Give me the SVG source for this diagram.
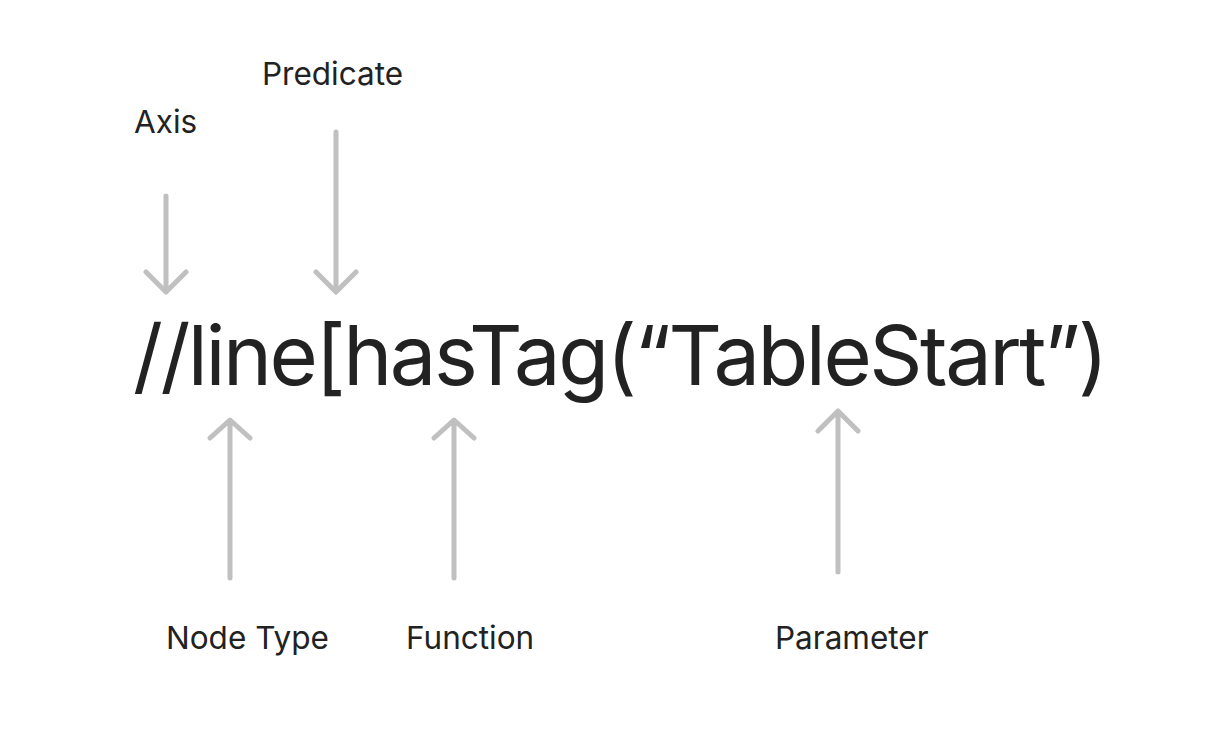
<svg xmlns="http://www.w3.org/2000/svg" width="1226" height="730" viewBox="0 0 1226 730">
<style>
.lbl{font-family:Inter,"Liberation Sans",sans-serif;font-size:31.5px;fill:#222222}
.main{font-family:Inter,"Liberation Sans",sans-serif;font-size:83px;fill:#222222;letter-spacing:-2.5px}
.arr{stroke:#c0c0c0;stroke-width:5;fill:none;stroke-linecap:round;stroke-linejoin:round}
</style>
<rect width="1226" height="730" fill="#ffffff"/>
<g id="expression"><text class="main" x="133" y="385">//line[hasTag(“TableStart”)</text></g>
<g id="axis"><text class="lbl" x="134" y="133">Axis</text></g>
<g id="predicate"><text class="lbl" x="262" y="85">Predicate</text></g>
<g id="nodetype"><text class="lbl" x="166" y="649">Node Type</text></g>
<g id="function"><text class="lbl" x="406" y="649">Function</text></g>
<g id="parameter"><text class="lbl" x="775" y="649">Parameter</text></g>
<g id="connectors">
<path class="arr" d="M166 196V291M146 272L166 292L186 272"/>
<path class="arr" d="M336 132V291M316 272L336 292L356 272"/>
<path class="arr" d="M230 578V421M210 438L230 420L250 438"/>
<path class="arr" d="M454 578V421M434 438L454 420L474 438"/>
<path class="arr" d="M838 572V412M818 431L838 411L858 431"/>
</g>
</svg>
